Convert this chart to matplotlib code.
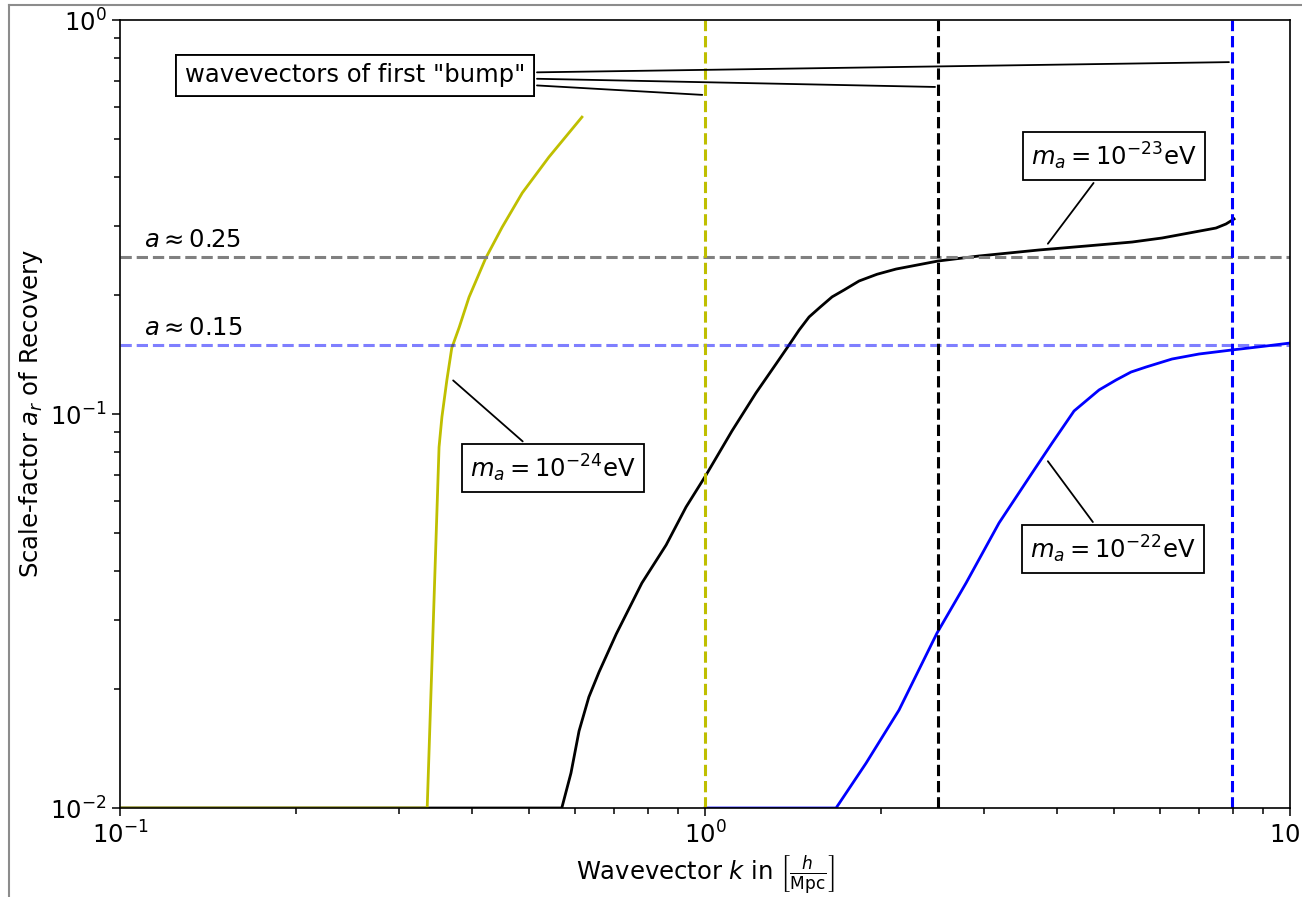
import matplotlib
matplotlib.use("Agg")
import matplotlib.pyplot as plt
from matplotlib.lines import Line2D

plt.rcParams['font.size'] = 17.5
plt.rcParams['mathtext.fontset'] = 'dejavusans'
plt.rcParams['axes.linewidth'] = 1.2

# --- data ---
k_24 = [0.1, 0.335, 0.351, 0.355, 0.362, 0.369, 0.380, 0.395, 0.422, 0.450, 0.487, 0.541, 0.616]
a_24 = [0.01, 0.01, 0.0824, 0.0983, 0.122, 0.147, 0.166, 0.198, 0.249, 0.298, 0.364, 0.449, 0.567]

k_23 = [0.1, 0.569, 0.590, 0.609, 0.633, 0.659, 0.705, 0.780, 0.858, 0.928, 1.004, 1.112,
        1.222, 1.322, 1.392, 1.448, 1.506, 1.573, 1.649, 1.728, 1.834, 1.968, 2.121, 2.502,
        2.940, 3.724, 4.480, 5.370, 6.042, 6.721, 7.472, 7.772, 8.023]
a_23 = [0.01, 0.01, 0.01227, 0.01568, 0.01913, 0.02215, 0.02764, 0.03725, 0.04651, 0.05807,
        0.0700, 0.0906, 0.1131, 0.1339, 0.1497, 0.1633, 0.1763, 0.1867, 0.1983, 0.2064,
        0.2176, 0.2263, 0.2333, 0.2445, 0.2518, 0.2608, 0.2669, 0.2732, 0.2797, 0.2880,
        0.2965, 0.3036, 0.3126]

k_22 = [1.0, 1.675, 1.885, 2.146, 2.492, 2.794, 3.181, 3.622, 3.920, 4.274, 4.498, 4.716,
        5.043, 5.348, 5.674, 6.284, 6.989, 7.960, 9.100, 10.0]
a_22 = [0.01, 0.01, 0.0130, 0.01773, 0.0278, 0.03725, 0.0529, 0.0708, 0.0844, 0.1018,
        0.1085, 0.1151, 0.1220, 0.1278, 0.1316, 0.1379, 0.1420, 0.1454, 0.1488, 0.1514]

# wavevectors of the first "bump" and recovery levels
k_bump = [1.0, 2.5, 7.95]
a_levels = [0.25, 0.15]

fig = plt.figure(figsize=(13.02, 8.97), dpi=100)
ax = fig.add_axes([0.0922, 0.0992, 0.8986, 0.8785])

ax.plot(k_23, a_23, color='k', lw=2)
ax.plot(k_24, a_24, color='y', lw=2)
ax.plot(k_22, a_22, color='b', lw=2)

ax.axhline(a_levels[0], color='0.5', ls='--', lw=2.2)
ax.axhline(a_levels[1], color='b', alpha=0.5, ls='--', lw=2.2)
ax.axvline(k_bump[0], color='y', ls='--', lw=2.2)
ax.axvline(k_bump[1], color='k', ls='--', lw=2.2)
ax.axvline(k_bump[2], color='b', ls='--', lw=2.2)

ax.text(0.11, 0.265, r'$a \approx 0.25$')
ax.text(0.11, 0.1587, r'$a \approx 0.15$')

box = dict(boxstyle='square,pad=0.35', fc='white', ec='k', lw=1.3)
line = dict(arrowstyle='-', color='k', lw=1.3)

for kb, ab in zip(k_bump, [0.645, 0.676, 0.782]):
    ax.annotate('wavevectors of first "bump"', xy=(kb, ab), xytext=(0.252, 0.725),
                ha='center', va='center', bbox=box, arrowprops=line)

ax.annotate(r'$m_a = 10^{-24}$eV', xy=(0.368, 0.123), xytext=(0.55, 0.0729),
            ha='center', va='center', bbox=box, arrowprops=line)
ax.annotate(r'$m_a = 10^{-23}$eV', xy=(3.83, 0.267), xytext=(5.0, 0.452),
            ha='center', va='center', bbox=box, arrowprops=line)
ax.annotate(r'$m_a = 10^{-22}$eV', xy=(3.83, 0.0769), xytext=(4.98, 0.0454),
            ha='center', va='center', bbox=box, arrowprops=line)

ax.set_xscale('log')
ax.set_yscale('log')
ax.set_xlim(0.1, 10)
ax.set_ylim(0.01, 1)
ax.tick_params(which='major', length=6, width=1.1)
ax.tick_params(which='minor', length=4, width=1.1)

ax.set_xlabel(r'Wavevector $k$ in $\left[\frac{h}{\mathrm{Mpc}}\right]$')
ax.set_ylabel(r'Scale-factor $a_r$ of Recovery')

# light frame of the original screenshot
fig.add_artist(Line2D([9 / 1302, 9 / 1302], [0, 1 - 5 / 897], color='0.55', lw=1.5))
fig.add_artist(Line2D([9 / 1302, 1], [1 - 5 / 897, 1 - 5 / 897], color='0.55', lw=1.5))

fig.savefig('out.png', dpi=100)
